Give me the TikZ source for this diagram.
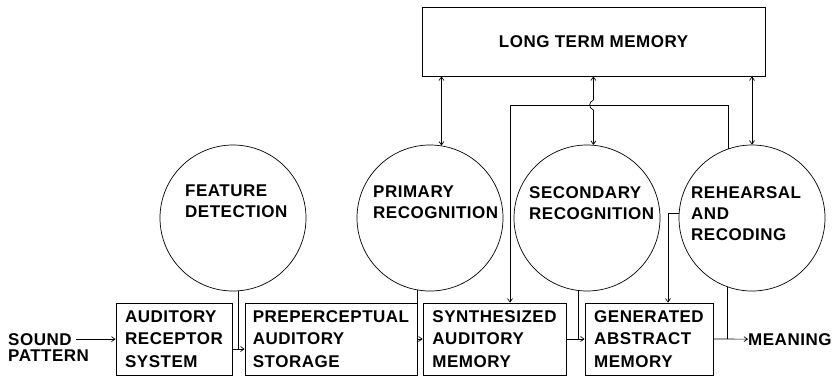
\documentclass[tikz,border=0pt]{standalone}
\usepackage{fontspec}
\setmainfont{Liberation Sans}[LetterSpace=3]
\usetikzlibrary{arrows.meta,calc}
\begin{document}
\begin{tikzpicture}[x=1pt,y=-1pt,
  lab/.style={font=\bfseries\fontsize{17}{22.5}\selectfont, align=left, inner sep=0pt},
  clab/.style={font=\bfseries\fontsize{17}{21}\selectfont, align=left, inner sep=0pt, anchor=north west},
  blk/.style={draw, line width=0.8pt, lab},
  circ/.style={draw, circle, line width=0.7pt, minimum size=146pt, inner sep=0pt},
  ln/.style={line width=0.7pt},
  arr/.style={ln, -{Straight Barb[length=3.5pt,width=5pt]}},
  darr/.style={ln, {Straight Barb[length=3.5pt,width=5pt]}-{Straight Barb[length=3.5pt,width=5pt]}}]
\useasboundingbox (0,0) rectangle (834,376);

% boxes
\node[blk, minimum width=116pt, minimum height=72pt] (rec) at (174,339) {AUDITORY\\RECEPTOR\\SYSTEM};
\node[blk, minimum width=172pt, minimum height=72pt] (pre) at (331,339) {PREPERCEPTUAL\\AUDITORY\\STORAGE};
\node[blk, minimum width=143pt, minimum height=72pt] (syn) at (494.5,339) {SYNTHESIZED\\AUDITORY\\MEMORY};
\node[blk, minimum width=128pt, minimum height=72pt] (gen) at (649,339) {GENERATED\\ABSTRACT\\MEMORY};
\node[blk, minimum width=343pt, minimum height=69pt] (ltm) at (593.5,41.5) {LONG TERM MEMORY};

% circles
\node[circ] (fd) at (233,218) {};
\node[circ] (pr) at (430,218) {};
\node[circ] (sc) at (587,218) {};
\node[circ] (rh) at (752,218) {};
\node[clab] (fdt) at (185,185) {FEATURE\\DETECTION};
\node[clab] (prt) at (373,186) {PRIMARY\\RECOGNITION};
\node[clab] (sct) at (529,186) {SECONDARY\\RECOGNITION};
\node[clab] (rht) at (691,186) {REHEARSAL\\AND\\RECODING};

% free labels
\node[lab, anchor=base west] (snd) at (8,345) {SOUND};
\node[lab, anchor=base west] (pat) at (8,361) {PATTERN};
\node[lab, anchor=base west] (mng) at (748,345) {MEANING};

% main flow
\draw[arr] ($(snd.east)+(4,0)$) -- (snd.east -| rec.west);
\draw[arr] ($(rec.east)+(0,10)$) -- ($(pre.west)+(0,10)$);
\draw[ln] (fd.-86) -- ($(fd.-86 |- rec.east)+(0,10)$);
\draw[arr] (pre.east) -- (syn.west);
\draw[ln] (pr.260) -- (pr.260 |- syn.west);
\draw[arr] (syn.east) -- (gen.west);
\draw[ln] (sc.263) -- (sc.263 |- gen.west);
\draw[arr] (gen.east) -- (mng.west);
\draw[ln] (rh.250) -- (rh.250 |- gen.east);

% rehearsal feedback
\draw[arr] (rh.176) -| ($(gen.north)+(19,0)$);
\coordinate (lp) at (510,105);
\draw[arr] (rh.109) |- (lp) -- (lp |- syn.north);

% long term memory links
\draw[darr] (pr.81) -- (pr.81 |- ltm.south);
\draw[darr] (rh.north) -- (rh.north |- ltm.south);
\coordinate (h) at (sc.85 |- lp);
\draw[darr] (sc.85) -- ($(h)+(0,5)$) .. controls ($(h)+(-5,3)$) and ($(h)+(-5,-3)$) .. ($(h)+(0,-5)$) -- (h |- ltm.south);
\end{tikzpicture}
\end{document}
